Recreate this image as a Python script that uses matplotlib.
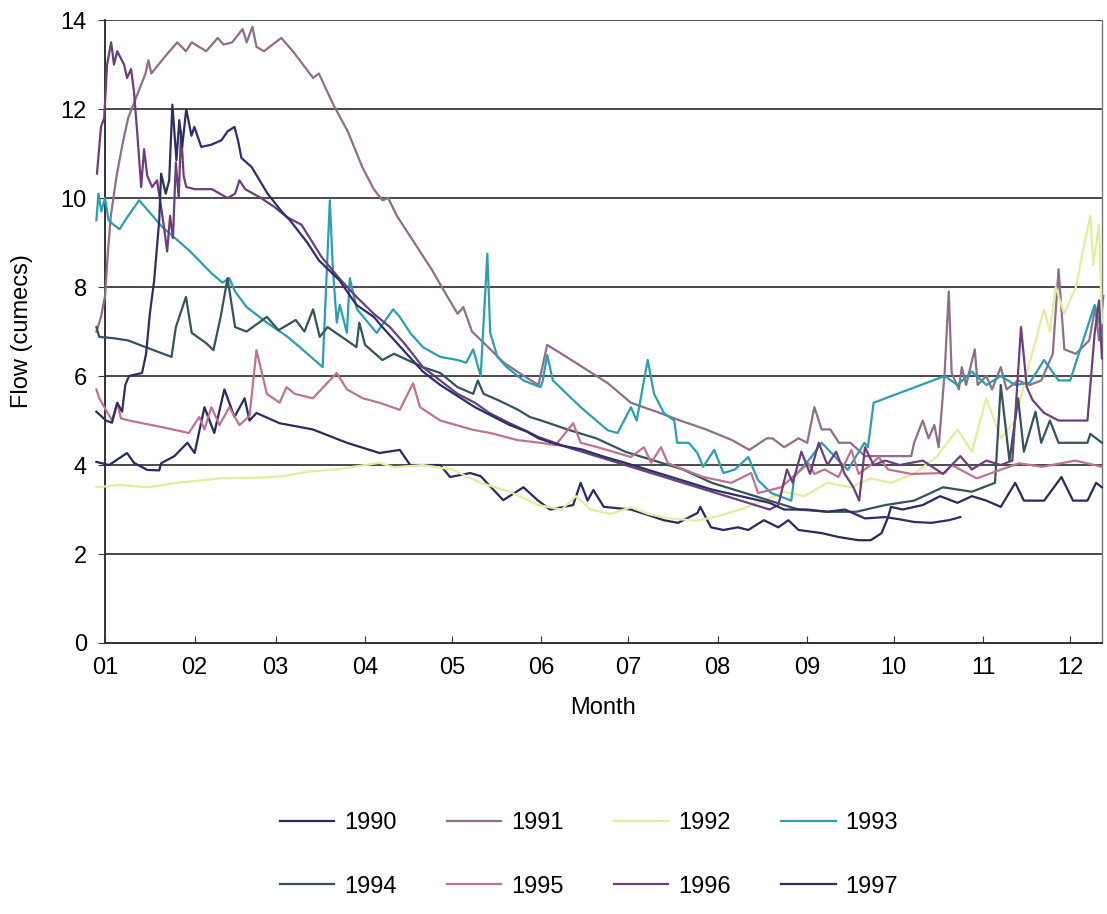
import matplotlib
matplotlib.use("Agg")
import matplotlib.pyplot as plt

plt.rcParams['font.family'] = ['Liberation Sans', 'DejaVu Sans']

# Day-of-year flow readings (day, cumecs)
years = ['1990', '1991', '1992', '1993', '1994', '1995', '1996', '1997']

flow_1990 = [(-3, 4.07), (1.4, 4.0), (7.6, 4.27), (10, 4.05), (14.6, 3.89), (18.75, 3.88), (19.4, 4.04),
             (24, 4.2), (28.5, 4.5), (31, 4.27), (34.4, 5.3), (37.8, 4.72), (41.3, 5.7), (44.8, 5.08),
             (48.3, 5.5), (50, 5.0), (52.4, 5.17), (60.4, 4.94), (71.9, 4.8), (83.7, 4.5), (95, 4.27),
             (102, 4.34), (105.6, 4.0), (116, 4.0), (119.4, 3.73), (126.4, 3.82), (130, 3.75),
             (137.8, 3.21), (144.8, 3.5), (149.7, 3.21), (154, 3.0), (162, 3.1), (164.6, 3.6), (167, 3.2),
             (169, 3.44), (172.6, 3.06), (182, 3.0), (193.4, 2.76), (198.3, 2.7), (205, 2.92), (206, 3.06),
             (209.7, 2.6), (214, 2.54), (219, 2.6), (222.6, 2.54), (228, 2.76), (233, 2.6), (236.5, 2.76),
             (240, 2.54), (248, 2.47), (254, 2.38), (260.8, 2.31), (265, 2.31), (268.75, 2.47), (271, 2.83),
             (272, 3.06), (276, 3.0), (283, 3.1), (289, 3.3), (295, 3.15), (300, 3.3), (305, 3.2),
             (310, 3.06), (315, 3.6), (318, 3.2), (325, 3.2), (331, 3.73), (335, 3.2), (340, 3.2),
             (343, 3.6), (345, 3.5)]

flow_1991 = [(-3, 7.0), (-1.5, 7.3), (0, 7.8), (1, 8.8), (2, 9.6), (4, 10.5), (6, 11.2), (8, 11.8), (11, 12.3),
             (14, 12.8), (15, 13.1), (16, 12.8), (18.5, 13.0), (21, 13.2), (25, 13.5), (28, 13.3),
             (30, 13.5), (35, 13.3), (39, 13.6), (41, 13.45), (44, 13.5), (47.6, 13.8), (49, 13.5),
             (51, 13.85), (52.4, 13.4), (55, 13.3), (61, 13.6), (65, 13.3), (72, 12.7), (74, 12.8),
             (79, 12.1), (84, 11.5), (89, 10.7), (93, 10.2), (96, 9.95), (98, 10.0), (101, 9.6),
             (107, 9.0), (113, 8.4), (117, 7.95), (122, 7.4), (124, 7.55), (127, 7.0), (131, 6.75),
             (138, 6.3), (145, 6.0), (150, 5.8), (153, 6.7), (158, 6.5), (174, 5.84), (182, 5.4),
             (192, 5.17), (199, 5.0), (208, 4.8), (217, 4.56), (223, 4.34), (229, 4.6), (231, 4.6),
             (235, 4.4), (240, 4.6), (243, 4.5), (245.5, 5.3), (248, 4.8), (251, 4.8), (254, 4.5),
             (258, 4.5), (263, 4.2), (271, 4.2), (279, 4.2), (280, 4.5), (283, 5.0), (285, 4.6),
             (287, 4.9), (288.5, 4.4), (290.6, 6.1), (292, 7.9), (293, 6.07), (295.5, 5.7), (296.5, 6.2),
             (298, 5.8), (301, 6.6), (302, 5.8), (305, 6.0), (307, 5.7), (310, 6.2), (312, 5.7),
             (316, 5.9), (320, 5.8), (324, 5.9), (328, 6.5), (330, 8.4), (332, 6.6), (336, 6.5),
             (340.6, 6.8), (342.7, 7.55), (344, 6.8), (345.5, 7.8)]

flow_1992 = [(-3, 3.5), (5, 3.55), (15, 3.5), (25, 3.6), (40, 3.7), (55, 3.72), (62, 3.75), (70, 3.85),
             (80, 3.9), (90, 4.0), (95, 4.05), (100, 3.95), (110, 4.0), (120, 3.9), (130, 3.6), (140, 3.4),
             (150, 3.1), (158, 3.0), (163, 3.3), (168, 3.0), (175, 2.9), (182, 3.05), (188, 2.9),
             (195, 2.8), (205, 2.75), (212, 2.85), (220, 3.0), (228, 3.2), (235, 3.4), (242, 3.3),
             (250, 3.6), (258, 3.5), (265, 3.7), (272, 3.6), (280, 3.8), (288, 4.2), (295, 4.8),
             (300, 4.3), (305, 5.5), (310, 4.6), (315, 5.0), (320, 6.3), (325, 7.5), (327, 7.0),
             (329, 8.0), (332, 7.4), (336, 8.0), (339, 9.0), (341, 9.6), (342, 8.5), (344, 9.4), (345, 7.2)]

flow_1993 = [(-3, 9.5), (-2.3, 10.1), (-1.3, 9.7), (0, 10.0), (1.2, 9.5), (3, 9.4), (5, 9.3), (8, 9.6),
             (11.8, 9.95), (19.8, 9.35), (29, 8.83), (37, 8.3), (40.6, 8.1), (43, 8.2), (45, 7.9),
             (49, 7.55), (56, 7.2), (62.8, 6.9), (67.4, 6.65), (75.3, 6.2), (77.8, 9.95), (78.8, 8.45),
             (80.2, 7.2), (81.25, 7.6), (83.7, 6.97), (84.7, 8.2), (87.2, 7.5), (94, 6.97), (99.7, 7.5),
             (102, 7.33), (105.6, 6.97), (110, 6.65), (116, 6.43), (122, 6.36), (125, 6.3), (127.4, 6.6),
             (130, 6.0), (132.3, 8.75), (133.3, 6.97), (135.8, 6.43), (139, 6.2), (144.8, 5.9),
             (150.7, 5.75), (151.5, 5.9), (153, 6.47), (155, 5.9), (164.6, 5.3), (174, 4.78),
             (177.4, 4.72), (182, 5.3), (184, 5.0), (187.8, 6.36), (190, 5.6), (193.4, 5.17), (197, 5.0),
             (198, 4.5), (202, 4.5), (205, 4.27), (207, 3.96), (210.8, 4.34), (214, 3.82), (218, 3.9),
             (222.6, 4.18), (226, 3.66), (230.6, 3.37), (237.5, 3.2), (238.5, 3.73), (244.4, 4.18),
             (248, 4.5), (257, 3.89), (262.8, 4.5), (264, 4.4), (266, 5.4), (290.6, 6.0), (295, 5.8),
             (300, 6.1), (305, 5.8), (310, 6.0), (315, 5.8), (320, 5.85), (325, 6.36), (330, 5.9),
             (334, 5.9), (337, 6.5), (342.5, 7.6), (345, 6.97)]

flow_1994 = [(-3, 7.1), (-2, 6.88), (3, 6.85), (8, 6.8), (14, 6.65), (23, 6.43), (24.5, 7.1), (28, 7.78),
             (30, 6.97), (35, 6.74), (37.5, 6.58), (40, 7.33), (42.4, 8.2), (45, 7.1), (49, 7.0),
             (56, 7.33), (60, 7.03), (66, 7.26), (69, 7.0), (72, 7.5), (74.3, 6.88), (77, 7.1),
             (83.7, 6.8), (87, 6.65), (88, 7.2), (90, 6.7), (96, 6.36), (100, 6.5), (110, 6.2),
             (116, 6.07), (122, 5.75), (127.4, 5.6), (129, 5.9), (131, 5.6), (136, 5.46), (143, 5.24),
             (147, 5.08), (151, 5.0), (160, 4.8), (170, 4.6), (180, 4.3), (190, 4.1), (200, 3.9),
             (210, 3.6), (220, 3.4), (230, 3.2), (240, 3.0), (250, 2.95), (260, 2.95), (270, 3.1),
             (280, 3.2), (290, 3.5), (300, 3.4), (308, 3.6), (310, 5.8), (313, 4.1), (316, 5.5),
             (318, 4.3), (322, 5.2), (324, 4.5), (327, 5.0), (330, 4.5), (340, 4.5), (341, 4.7), (345, 4.5)]

flow_1995 = [(-3, 5.7), (-2, 5.5), (2.4, 5.0), (4.2, 5.4), (5.5, 5.05), (8.3, 5.0), (19.8, 4.85),
             (29, 4.72), (32.6, 5.08), (34.4, 4.8), (36.8, 5.3), (39.6, 4.9), (43, 5.3), (46.5, 4.9),
             (50, 5.1), (52.4, 6.58), (56, 5.6), (60.4, 5.4), (62.8, 5.75), (65.6, 5.6), (71.9, 5.5),
             (80.2, 6.07), (83.7, 5.7), (89.2, 5.5), (95, 5.4), (102, 5.24), (106.6, 5.84), (109, 5.3),
             (116, 5.0), (127.4, 4.79), (133.3, 4.72), (142.7, 4.56), (150.7, 4.5), (156, 4.45),
             (162, 4.94), (164.6, 4.5), (170.5, 4.4), (182, 4.18), (186.5, 4.4), (189, 4.05),
             (192.4, 4.4), (194.8, 4.04), (207, 3.73), (216.7, 3.6), (223.6, 3.82), (226, 3.37),
             (234, 3.5), (243.4, 4.04), (245.5, 3.8), (249, 3.9), (253.8, 3.73), (258.3, 4.34),
             (260.8, 3.8), (265, 4.0), (267.7, 4.18), (271, 3.9), (279, 3.8), (290.6, 3.82), (293, 4.0),
             (301.7, 3.7), (312.8, 3.96), (316.3, 4.04), (324.3, 3.96), (335.8, 4.1), (345, 3.96)]

flow_1996 = [(-2.8, 10.55), (-1.4, 11.6), (-0.3, 11.8), (0.7, 13.0), (2.1, 13.5), (3.1, 13.0), (4.2, 13.3),
             (6.6, 13.0), (7.6, 12.7), (9, 12.9), (10, 12.4), (11.1, 11.5), (12.5, 10.25), (13.5, 11.1),
             (14.6, 10.5), (16.3, 10.25), (18, 10.4), (19.4, 9.8), (20.5, 9.3), (21.5, 8.8), (22.5, 9.6),
             (23.5, 9.1), (24.5, 10.8), (25.5, 10.0), (26.3, 11.5), (27.2, 10.5), (28.1, 10.25),
             (31, 10.2), (37, 10.2), (42.4, 10.0), (45, 10.1), (46.5, 10.4), (48.5, 10.2), (54, 10.0),
             (58.6, 9.8), (63, 9.57), (68, 9.4), (75, 8.67), (81, 8.2), (87, 7.78), (93, 7.4),
             (98.6, 7.1), (104, 6.7), (110, 6.2), (116, 5.9), (122, 5.6), (128, 5.4), (133, 5.17),
             (140, 4.94), (145, 4.79), (150, 4.63), (160, 4.4), (170, 4.2), (180, 4.0), (190, 3.8),
             (200, 3.6), (210, 3.4), (220, 3.2), (230, 3.0), (233, 3.1), (236, 3.9), (238, 3.6),
             (241, 4.3), (244, 3.8), (247, 4.5), (250, 4.0), (253, 4.3), (256, 3.8), (259, 3.5),
             (261, 3.2), (263, 4.4), (266, 4.0), (270, 4.1), (275, 4.0), (283, 4.1), (290, 3.8),
             (296, 4.2), (300, 3.9), (305, 4.1), (310, 4.0), (314, 4.1), (317, 7.1), (319, 5.75),
             (321, 5.46), (325, 5.17), (330, 5.0), (340, 5.0), (342.5, 6.97), (344, 7.7), (345, 6.4)]

flow_1997 = [(-3, 5.2), (0.3, 5.0), (2.4, 4.95), (4.2, 5.4), (5.9, 5.2), (7, 5.8), (8.3, 6.0), (12.8, 6.07),
             (14.2, 6.5), (15.5, 7.4), (17, 8.15), (18.75, 9.5), (19.4, 10.55), (21, 10.1), (22.2, 10.4),
             (23.3, 12.1), (24.7, 10.85), (25.7, 11.75), (26.7, 11.15), (28.1, 12.0), (29.9, 11.4),
             (30.9, 11.6), (33.3, 11.15), (36.8, 11.2), (40.3, 11.3), (42.4, 11.5), (44.8, 11.6),
             (46, 11.3), (47.2, 10.9), (50.7, 10.7), (56.25, 10.1), (61.1, 9.7), (64, 9.5), (70, 9.0),
             (74, 8.6), (81, 8.16), (87, 7.6), (93, 7.33), (96, 7.1), (103, 6.6), (110, 6.1), (116, 5.8),
             (122, 5.55), (128, 5.3), (134, 5.1), (140, 4.9), (146, 4.75), (150, 4.6), (157, 4.45),
             (165, 4.35), (172, 4.2), (180, 4.05), (190, 3.85), (200, 3.65), (210, 3.45), (220, 3.3),
             (230, 3.15), (235, 3.0), (243, 3.0), (250, 2.95), (256, 3.0), (263, 2.8), (270, 2.83),
             (275, 2.78), (280, 2.72), (286, 2.7), (292, 2.76), (296, 2.83)]

series = [flow_1990, flow_1991, flow_1992, flow_1993, flow_1994, flow_1995, flow_1996, flow_1997]
colors = ['#262c5c', '#8e6f88', '#e4eca0', '#2b9fae', '#35545a', '#c0728f', '#6b3f7a', '#2d2f66']

month_starts = [0, 31, 59, 90, 120, 151, 181, 212, 243, 273, 304, 334]
month_labels = ['01', '02', '03', '04', '05', '06', '07', '08', '09', '10', '11', '12']

fig = plt.figure(figsize=(11.07, 9.14), dpi=100)
ax = fig.add_axes([0.0949, 0.2965, 0.9005, 0.6815])

handles = []
for yr, data, c in zip(years, series, colors):
    days = [p[0] for p in data]
    vals = [p[1] for p in data]
    h, = ax.plot(days, vals, color=c, lw=1.6, label=yr, clip_on=False, zorder=3)
    handles.append(h)

ax.set_xlim(0, 345)
ax.set_ylim(0, 14)
ax.set_yticks(range(0, 15, 2))
ax.set_xticks(month_starts)
ax.set_xticklabels(month_labels)
ax.grid(axis='y', color='#4a4a4a', lw=1.4, zorder=1)
ax.tick_params(axis='x', direction='in', length=5, labelsize=17, pad=10, color='#333333')
ax.tick_params(axis='y', direction='out', length=5, labelsize=17, pad=8, color='#333333')
for side in ['left', 'bottom']:
    ax.spines[side].set_color('#333333')
    ax.spines[side].set_linewidth(1.4)
ax.spines['top'].set_visible(False)
ax.spines['right'].set_color('#777777')
ax.spines['right'].set_linewidth(1.0)

ax.set_ylabel('Flow (cumecs)', fontsize=17, labelpad=20)
ax.set_xlabel('Month', fontsize=17, labelpad=13)

order = [0, 4, 1, 5, 2, 6, 3, 7]
fig.legend([handles[i] for i in order], [years[i] for i in order], ncol=4,
           loc='center', bbox_to_anchor=(0.532, 0.0645), frameon=False, fontsize=17,
           handlelength=2.3, handletextpad=0.4, columnspacing=2.15, labelspacing=1.75)

fig.savefig('out.png', dpi=100)
